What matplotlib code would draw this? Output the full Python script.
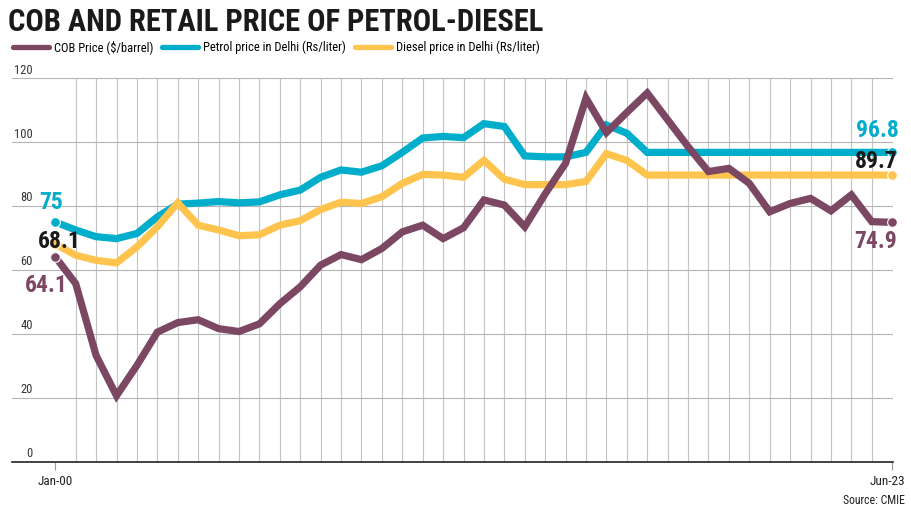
import numpy as np
import matplotlib.pyplot as plt

plt.rcParams['font.family'] = ['Roboto Condensed', 'DejaVu Sans Condensed',
                               'Liberation Sans Narrow', 'DejaVu Sans']

# monthly series, Jan 2020 - Jun 2023
cob = [64.1, 55.7, 33.2, 20.6, 30.1, 40.5, 43.5, 44.4, 41.6, 40.7,
       43.1, 49.4, 54.7, 61.5, 64.8, 63.2, 66.7, 71.9, 74.0, 69.8,
       73.2, 81.9, 80.3, 73.5, 83.8, 93.4, 113.8, 103.0, 109.3, 115.4,
       107.0, 98.6, 90.8, 91.8, 87.1, 78.2, 80.8, 82.4, 78.5, 83.5,
       75.1, 74.9]
petrol = [75.0, 72.5, 70.4, 69.8, 71.4, 76.6, 80.6, 80.9, 81.4, 81.0,
          81.3, 83.5, 85.0, 89.0, 91.3, 90.6, 92.6, 96.8, 101.3, 101.8,
          101.4, 105.8, 104.9, 95.7, 95.4, 95.4, 96.8, 105.4, 102.8, 96.8,
          96.8, 96.8, 96.8, 96.8, 96.8, 96.8, 96.8, 96.8, 96.8, 96.8,
          96.8, 96.8]
diesel = [68.1, 64.6, 63.0, 62.2, 67.2, 73.5, 81.0, 74.0, 72.5, 70.7,
          71.0, 74.0, 75.4, 78.9, 81.2, 80.8, 82.9, 87.1, 89.9, 89.7,
          89.0, 94.3, 88.4, 86.7, 86.7, 86.7, 87.7, 96.4, 94.3, 89.7,
          89.7, 89.7, 89.7, 89.7, 89.7, 89.7, 89.7, 89.7, 89.7, 89.7,
          89.7, 89.7]
x_labels = ['Jan-00', 'Jun-23']
y_ticks = [0, 20, 40, 60, 80, 100, 120]

c_cob = '#7B4762'
c_petrol = '#00AECB'
c_diesel = '#FFC44D'

x = np.arange(len(cob))

fig = plt.figure(figsize=(9.12, 5.11), dpi=100)
ax = fig.add_axes([12 / 912, 1 - 461.5 / 511, 881 / 912, (461.5 - 78.3) / 511])

series = [
    (petrol, c_petrol, 'Petrol price in Delhi (Rs/liter)', 3),
    (diesel, c_diesel, 'Diesel price in Delhi (Rs/liter)', 4),
    (cob, c_cob, 'COB Price ($/barrel)', 5),
]
lines = {}
for vals, col, lab, z in series:
    ln, = ax.plot(x, vals, color=col, lw=5.2, label=lab, zorder=z,
                  solid_joinstyle='miter', clip_on=False,
                  marker='o', markevery=[0, len(vals) - 1], markersize=7,
                  markeredgecolor='white', markeredgewidth=0.8)
    lines[lab] = ln

ax.set_xlim(-2.12, 41.04)
ax.set_ylim(0, 120)

# grid
ax.set_yticks(y_ticks)
ax.set_xticks(x, minor=True)
ax.grid(axis='y', which='major', color='#b5b5b5', lw=0.8)
ax.grid(axis='x', which='minor', color='#c4c4c4', lw=0.8)
ax.tick_params(axis='y', left=False, labelleft=False)
ax.tick_params(axis='x', which='minor', length=0)
ax.set_xticks([0, len(x) - 1])
ax.set_xticklabels([])
ax.tick_params(axis='x', which='major', length=6, color='#999999', width=0.8)
for s in ['top', 'right', 'left']:
    ax.spines[s].set_visible(False)
ax.spines['bottom'].set_color('#222222')
ax.spines['bottom'].set_linewidth(1.2)

# y labels above the gridlines
ytrans = ax.get_yaxis_transform()
for v in y_ticks:
    ax.annotate(str(v), (0.0238, v), xycoords=ytrans, xytext=(0, 1.2),
                textcoords='offset points', ha='right', va='bottom',
                fontsize=9, color='#333333')

# x labels
ax.annotate(x_labels[0], (0, 0), xycoords='data', xytext=(0, -14.5),
            textcoords='offset points', ha='center', va='center',
            fontsize=9.5, color='#222222', annotation_clip=False)
ax.annotate(x_labels[1], (len(x) - 1, 0), xycoords='data', xytext=(9.5, -14.5),
            textcoords='offset points', ha='right', va='center',
            fontsize=9.5, color='#222222', annotation_clip=False)

# value labels at the ends
lab_kw = dict(textcoords='offset points', ha='center', va='center',
              fontsize=17, fontweight='bold', annotation_clip=False, zorder=6)
ax.annotate(f'{petrol[0]:g}', (0, petrol[0]), xytext=(-3, 14), color=c_petrol, **lab_kw)
ax.annotate(f'{diesel[0]:g}', (0, diesel[0]), xytext=(3.2, 2.1), color='#1a1a1a', **lab_kw)
ax.annotate(f'{cob[0]:g}', (0, cob[0]), xytext=(-6.5, -21), color=c_cob, **lab_kw)
n = len(x) - 1
ax.annotate(f'{petrol[-1]:g}', (n, petrol[-1]), xytext=(-10.8, 15.8), color=c_petrol, **lab_kw)
ax.annotate(f'{diesel[-1]:g}', (n, diesel[-1]), xytext=(-11.5, 9.6), color='#1a1a1a', **lab_kw)
ax.annotate(f'{cob[-1]:g}', (n, cob[-1]), xytext=(-12.2, -13.7), color=c_cob, **lab_kw)

# legend
order = ['COB Price ($/barrel)', 'Petrol price in Delhi (Rs/liter)',
         'Diesel price in Delhi (Rs/liter)']
leg = fig.legend([lines[k] for k in order], order, loc='center left',
                 bbox_to_anchor=(0.014, 1 - 47 / 511), ncol=3, frameon=False,
                 fontsize=9, handlelength=2.9, handletextpad=0.4,
                 columnspacing=0.7, borderpad=0, borderaxespad=0)
for h in leg.legend_handles:
    h.set_linewidth(3.8)
    h.set_solid_capstyle('round')
    h.set_marker('')

fig.text(8 / 912, 1 - 31 / 511, 'COB AND RETAIL PRICE OF PETROL-DIESEL',
         ha='left', va='baseline', fontsize=22, fontweight='bold', color='#1a1a1a')
fig.text(905 / 912, 1 - 500 / 511, 'Source: CMIE', ha='right', va='center',
         fontsize=8.5, color='#222222')

fig.savefig('out.png', dpi=100)
